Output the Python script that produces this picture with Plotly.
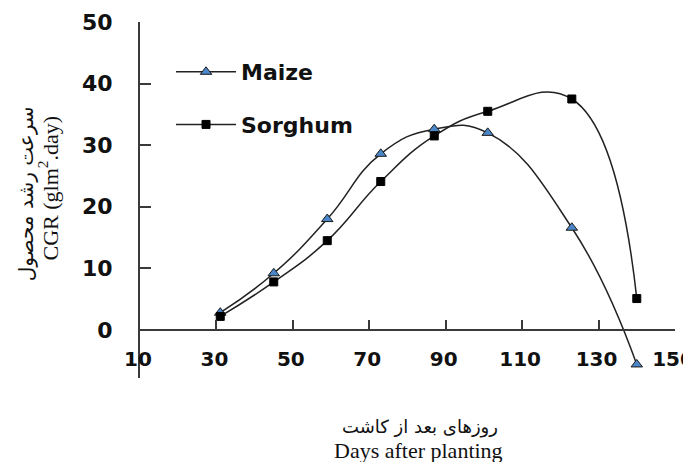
import plotly.graph_objects as go

days = [31, 45, 59, 73, 87, 101, 123, 140]
maize = [2.8, 9.2, 18.0, 28.6, 32.6, 32.0, 16.6, -5.6]
sorghum = [2.2, 7.8, 14.5, 24.1, 31.5, 35.5, 37.5, 5.1]
x_ticks = [10, 30, 50, 70, 90, 110, 130, 150]
y_ticks = [0, 10, 20, 30, 40, 50]

YMIN, YMAX = -7.8, 50
AX = "#3a3a3a"
xtick_font = dict(family="DejaVu Sans", size=20, color="#111", weight="bold")
ytick_font = dict(family="DejaVu Sans", size=22, color="#111", weight="bold")

fig = go.Figure()
fig.add_trace(go.Scatter(
    x=days, y=maize, name="Maize", mode="lines+markers", legendgroup="m",
    line=dict(color="#222", width=1.5, shape="spline", smoothing=1.3),
    marker=dict(symbol="triangle-up", size=10, color="#4a86c8",
                line=dict(color="#1a1a1a", width=1)),
    cliponaxis=False))
fig.add_trace(go.Scatter(
    x=days, y=sorghum, name="Sorghum", mode="lines+markers", legendgroup="s",
    line=dict(color="#222", width=1.5, shape="spline", smoothing=1.3),
    marker=dict(symbol="square", size=8, color="#000",
                line=dict(color="#000", width=1)),
    cliponaxis=False))

fig.update_layout(
    width=675, height=454,
    margin=dict(l=132, r=8, t=14, b=84, autoexpand=False),
    paper_bgcolor="white", plot_bgcolor="white",
    showlegend=True,
    legend=dict(x=0.058, y=0.9185, xanchor="left", yanchor="top",
                font=dict(family="DejaVu Sans", size=22, color="#111", weight="bold"),
                bgcolor="rgba(0,0,0,0)", traceorder="grouped", tracegroupgap=21,
                itemwidth=60),
    xaxis=dict(range=[10, 150], tickvals=x_ticks, ticktext=[str(v) for v in x_ticks],
               anchor="free", position=(0 - YMIN) / (YMAX - YMIN),
               showline=True, linecolor=AX, linewidth=2,
               ticks="inside", ticklen=9, tickwidth=2, tickcolor=AX,
               showgrid=False, zeroline=False, tickfont=xtick_font,
               ticklabelstandoff=11, ticklabelshift=-2,
               ticklabeloverflow="allow", automargin=False),
    yaxis=dict(range=[YMIN, YMAX], tickvals=y_ticks, ticktext=[str(v) for v in y_ticks],
               showline=True, linecolor=AX, linewidth=2,
               ticks="inside", ticklen=11, tickwidth=2, tickcolor=AX,
               showgrid=False, zeroline=False, tickfont=ytick_font,
               ticklabelstandoff=21, automargin=False),
    annotations=[
        dict(text="سرعت رشد محصول", xref="paper", yref="paper",
             x=-0.2125, y=0.517, xanchor="center", yanchor="middle", textangle=-90,
             showarrow=False, font=dict(family="DejaVu Sans", size=20, color="#111")),
        dict(text="CGR (glm<sup>2</sup>.day)", xref="paper", yref="paper",
             x=-0.172, y=0.535, xanchor="center", yanchor="middle", textangle=-90,
             showarrow=False, font=dict(family="Liberation Serif", size=22, color="#111")),
        dict(text="روزهای بعد از کاشت", xref="paper", yref="paper",
             x=0.523, y=-0.1376, xanchor="center", yanchor="middle",
             showarrow=False, font=dict(family="DejaVu Sans", size=18, color="#111")),
        dict(text="Days after planting", xref="paper", yref="paper",
             x=0.520, y=-0.205, xanchor="center", yanchor="middle",
             showarrow=False, font=dict(family="Liberation Serif", size=22, color="#111")),
    ],
)

fig.write_html("out.html")
